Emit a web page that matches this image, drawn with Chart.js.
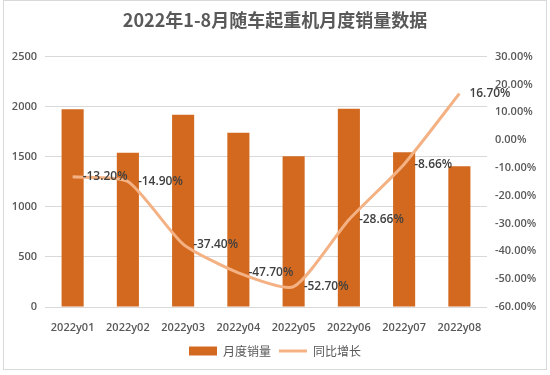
<!DOCTYPE html>
<html>
<head>
<meta charset="utf-8">
<script src="https://cdn.jsdelivr.net/npm/chart.js@4/dist/chart.umd.min.js"></script>
<style>
  html, body { margin: 0; padding: 0; background: #fff; }
  #wrap { width: 550px; height: 375px; }
</style>
</head>
<body>
<div id="wrap"><canvas id="chart" width="550" height="375"></canvas></div>
<script>
// 月份
const months = ["2022y01", "2022y02", "2022y03", "2022y04", "2022y05", "2022y06", "2022y07", "2022y08"];
// 月度销量
const sales = [1975, 1540, 1920, 1740, 1505, 1980, 1545, 1405];
// 同比增长 (%)
const growth = [-13.2, -14.9, -37.4, -47.7, -52.7, -28.66, -8.66, 16.7];

const tickFont = { family: "'Open Sans', 'Noto Sans CJK SC', sans-serif", size: 11, weight: "600" };
const axisColor = "#595959";

// 数据标签
let pointLabels = {
  id: "pointLabels",
  afterDatasetsDraw(chart) {
    let meta = chart.getDatasetMeta(1);
    let ctx = chart.ctx;
    ctx.save();
    ctx.font = "600 12px 'Open Sans', sans-serif";
    ctx.fillStyle = "#404040";
    ctx.textAlign = "left";
    ctx.textBaseline = "middle";
    meta.data.forEach(function(pt, i) {
      ctx.fillText(growth[i].toFixed(2) + "%", pt.x + 10, pt.y);
    });
    ctx.restore();
  }
};

// 外框
let frame = {
  id: "frame",
  beforeDraw(chart) {
    let ctx = chart.ctx;
    ctx.save();
    ctx.strokeStyle = "#d9d9d9";
    ctx.lineWidth = 1;
    ctx.strokeRect(3.5, 0.5, 543, 369);
    ctx.restore();
  }
};

let ctx = document.getElementById("chart").getContext("2d");
window.myChart = new Chart(ctx, {
  type: "bar",
  data: {
    labels: months,
    datasets: [
      {
        type: "bar",
        label: "月度销量",
        data: sales,
        backgroundColor: "#d2691f",
        yAxisID: "y",
        order: 1,
        barPercentage: 0.8,
        categoryPercentage: 0.5
      },
      {
        type: "line",
        label: "同比增长",
        data: growth,
        borderColor: "#f4b183",
        backgroundColor: "#f4b183",
        borderWidth: 3,
        pointRadius: 0,
        tension: 0.2,
        yAxisID: "y1",
        order: 0
      }
    ]
  },
  options: {
    responsive: false,
    animation: false,
    layout: { padding: { top: 0, bottom: 8, left: 0, right: 0 } },
    plugins: {
      tooltip: { enabled: false },
      title: {
        display: true,
        text: "2022年1-8月随车起重机月度销量数据",
        color: "#595959",
        font: { family: "'Noto Sans CJK SC', sans-serif", size: 18, weight: "bold" },
        padding: { top: 9, bottom: 26 }
      },
      legend: {
        position: "bottom",
        labels: {
          color: "#595959",
          font: { family: "'Noto Sans CJK SC', sans-serif", size: 12 },
          usePointStyle: true,
          pointStyleWidth: 28,
          boxHeight: 9,
          padding: 8,
          sort: function(a, b) { return a.datasetIndex - b.datasetIndex; },
          generateLabels: function(chart) {
            let items = Chart.defaults.plugins.legend.labels.generateLabels(chart);
            items.forEach(function(it) {
              it.pointStyle = it.datasetIndex === 0 ? "rect" : "line";
            });
            return items;
          }
        }
      }
    },
    scales: {
      x: {
        grid: { display: false },
        border: { display: false },
        ticks: { color: axisColor, font: tickFont, padding: 6, maxRotation: 0 },
        afterFit: function(scale) { scale.height = 30; }
      },
      y: {
        position: "left",
        min: 0,
        max: 2500,
        ticks: {
          stepSize: 500,
          color: axisColor,
          font: tickFont,
          padding: 8,
          callback: function(v) { return String(v); }
        },
        grid: { color: "#d9d9d9", drawTicks: false },
        border: { display: false },
        afterFit: function(scale) { scale.width = 45; }
      },
      y1: {
        position: "right",
        min: -60,
        max: 30,
        ticks: {
          stepSize: 10,
          color: axisColor,
          font: tickFont,
          padding: 8,
          callback: function(v) { return v.toFixed(2) + "%"; }
        },
        grid: { display: false, drawTicks: false },
        border: { display: false },
        afterFit: function(scale) { scale.width = 63; }
      }
    }
  },
  plugins: [pointLabels, frame]
});
</script>
</body>
</html>
